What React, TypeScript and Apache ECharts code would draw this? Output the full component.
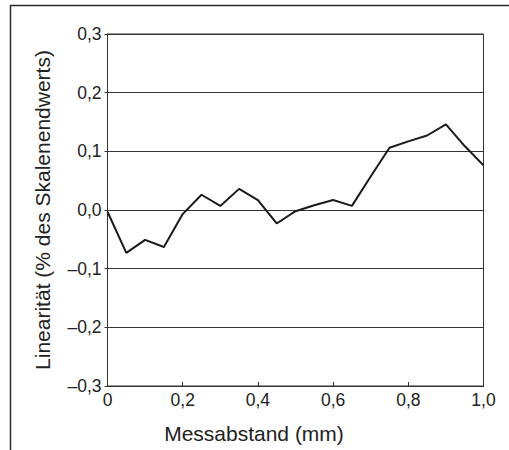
import React, { useEffect, useRef } from "react";
import * as echarts from "echarts";

const distances = [0, 0.05, 0.1, 0.15, 0.2, 0.25, 0.3, 0.35, 0.4, 0.45, 0.5, 0.55, 0.6, 0.65, 0.7, 0.75, 0.8, 0.85, 0.9, 0.95, 1.0];
const linearity = [-0.003, -0.073, -0.051, -0.063, -0.007, 0.026, 0.007, 0.036, 0.017, -0.023, -0.002, 0.008, 0.017, 0.007, 0.057, 0.106, 0.117, 0.127, 0.146, 0.109, 0.076];

const xTitle = "Messabstand (mm)";
const yTitle = "Linearität (% des Skalenendwerts)";

const FONT = "'Liberation Sans', Arial, Helvetica, sans-serif";
const TEXT = "#222";

function fmt(v: number, isX: boolean): string {
  if (isX && Math.abs(v) < 1e-9) return "0";
  const s = Math.abs(v).toFixed(1).replace(".", ",");
  return v < -1e-9 ? "\u2013" + s : s;
}

export default function App() {
  const ref = useRef<HTMLDivElement>(null);
  useEffect(() => {
    if (!ref.current) return;
    const chart = echarts.init(ref.current, undefined, { renderer: "svg" });
    chart.setOption({
      animation: false,
      backgroundColor: "#fff",
      grid: {
        left: 107.5,
        top: 34,
        width: 376,
        height: 352,
        show: true,
        borderColor: "#333",
        borderWidth: 1,
        backgroundColor: "transparent",
      },
      xAxis: {
        type: "value",
        min: 0,
        max: 1,
        interval: 0.2,
        axisLine: { show: true, onZero: false, lineStyle: { color: "#333", width: 1 } },
        axisTick: { show: true, inside: true, length: 4, lineStyle: { color: "#333" } },
        axisLabel: {
          margin: 5,
          fontFamily: FONT,
          fontSize: 17.5,
          color: TEXT,
          formatter: (v: number) => fmt(v, true),
        },
        splitLine: { show: false },
      },
      yAxis: {
        type: "value",
        min: -0.3,
        max: 0.3,
        interval: 0.1,
        name: yTitle,
        nameLocation: "middle",
        nameGap: 55,
        nameTextStyle: { fontFamily: FONT, fontSize: 21, color: TEXT },
        axisLine: { show: true, lineStyle: { color: "#333", width: 1 } },
        axisTick: { show: true, inside: false, length: 3, lineStyle: { color: "#333" } },
        axisLabel: {
          margin: 6,
          fontFamily: FONT,
          fontSize: 17.5,
          color: TEXT,
          formatter: (v: number) => fmt(v, false),
        },
        splitLine: { show: true, lineStyle: { color: "#333", width: 1 } },
      },
      graphic: [
        {
          type: "line",
          shape: { x1: 10, y1: 5.5, x2: 509, y2: 5.5 },
          style: { stroke: "#2a2a2a", lineWidth: 1.5 },
        },
        {
          type: "line",
          shape: { x1: 10.5, y1: 5, x2: 10.5, y2: 450 },
          style: { stroke: "#2a2a2a", lineWidth: 1.5 },
        },
        {
          type: "text",
          x: 254,
          y: 433,
          style: {
            text: xTitle,
            fontFamily: FONT,
            fontSize: 21,
            fill: TEXT,
            textAlign: "center",
            textVerticalAlign: "middle",
          },
        },
      ],
      series: [
        {
          type: "line",
          data: distances.map((d, i) => [d, linearity[i]]),
          showSymbol: false,
          symbol: "none",
          lineStyle: { color: "#1a1a1a", width: 2 },
        },
      ],
    });
    return () => chart.dispose();
  }, []);
  return (
    <div
      ref={ref}
      style={{ position: "absolute", left: 0, top: 0, width: 509, height: 450 }}
    />
  );
}
